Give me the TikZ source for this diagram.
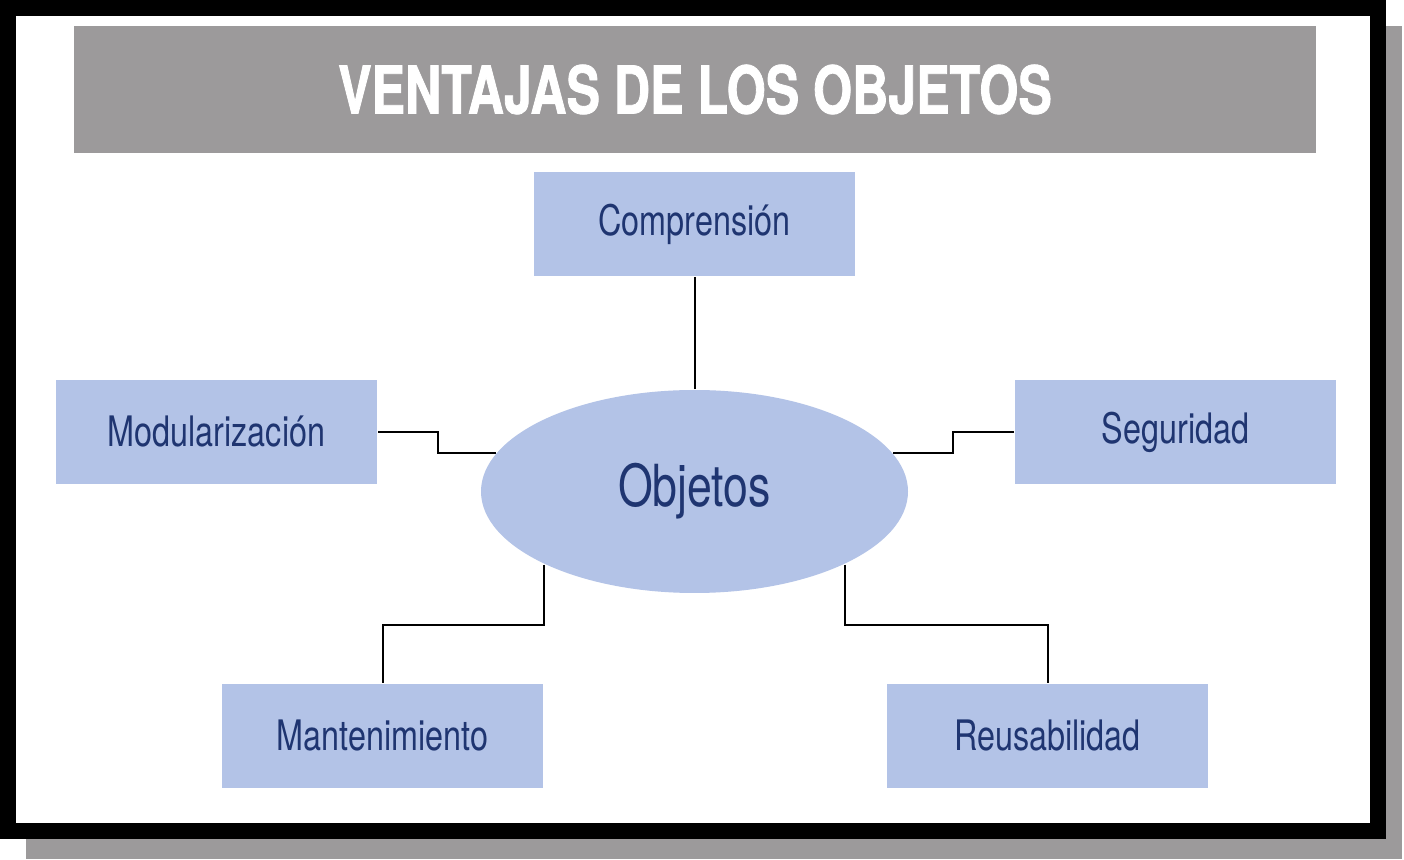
\documentclass[tikz,border=0pt]{standalone}
\usepackage{fontspec}
\usepackage{tikz}
\usetikzlibrary{shapes.geometric}
\newfontfamily\boxfont[FakeStretch=0.77]{TeX Gyre Heros}
\newfontfamily\headfont[FakeStretch=0.76,FakeBold=1.2]{TeX Gyre Heros}
\definecolor{boxblue}{HTML}{B3C3E7}
\definecolor{navy}{HTML}{1F3571}
\definecolor{framegray}{HTML}{9C9A9B}

\begin{document}
\begin{tikzpicture}
	[x=0.5pt,y=-0.5pt,line width=1pt,
		item node/.style={rectangle,fill=boxblue,text=navy,inner sep=0pt,minimum width=160.5pt,minimum height=52pt,font=\boxfont\fontsize{21}{24}\selectfont},
		main node/.style={ellipse,fill=boxblue,text=navy,inner sep=0pt,minimum width=213.5pt,minimum height=101.5pt,font=\boxfont\fontsize{29}{32}\selectfont}]

	\useasboundingbox (0,0) rectangle (1404,860);

	% frame and shadow
	\fill[framegray] (26,26) rectangle (1402,859);
	\fill[black] (0,0) rectangle (1386,839);
	\fill[white] (16,16) rectangle (1370,823);

	% title bar
	\node[fill=framegray,inner sep=0pt,minimum width=621pt,minimum height=63.5pt,text=white,font=\headfont\bfseries\fontsize{33}{36}\selectfont] (title) at (695,89.5) {VENTAJAS DE LOS OBJETOS};

	\node[main node] (obj)  at (694.5,491.5) {Objetos};
	\node[item node] (comp) at (694.5,224)   {Comprensión};
	\node[item node] (mod)  at (216.5,432)   {Modularización};
	\node[item node] (seg)  at (1175.5,432)  {Seguridad};
	\node[item node] (man)  at (382.5,736)   {Mantenimiento};
	\node[item node] (reu)  at (1047.5,736)  {Reusabilidad};

	\draw (comp.south) -- (obj.north);
	\draw (mod.east) -- ++(60,0) |- (obj.169);
	\draw (seg.west) -- ++(-61,0) |- (obj.11);
	\draw (obj.206.2) -- ++(0,60) -| (man.north);
	\draw (obj.334.6) -- ++(0,60) -| (reu.north);

\end{tikzpicture}
\end{document}
